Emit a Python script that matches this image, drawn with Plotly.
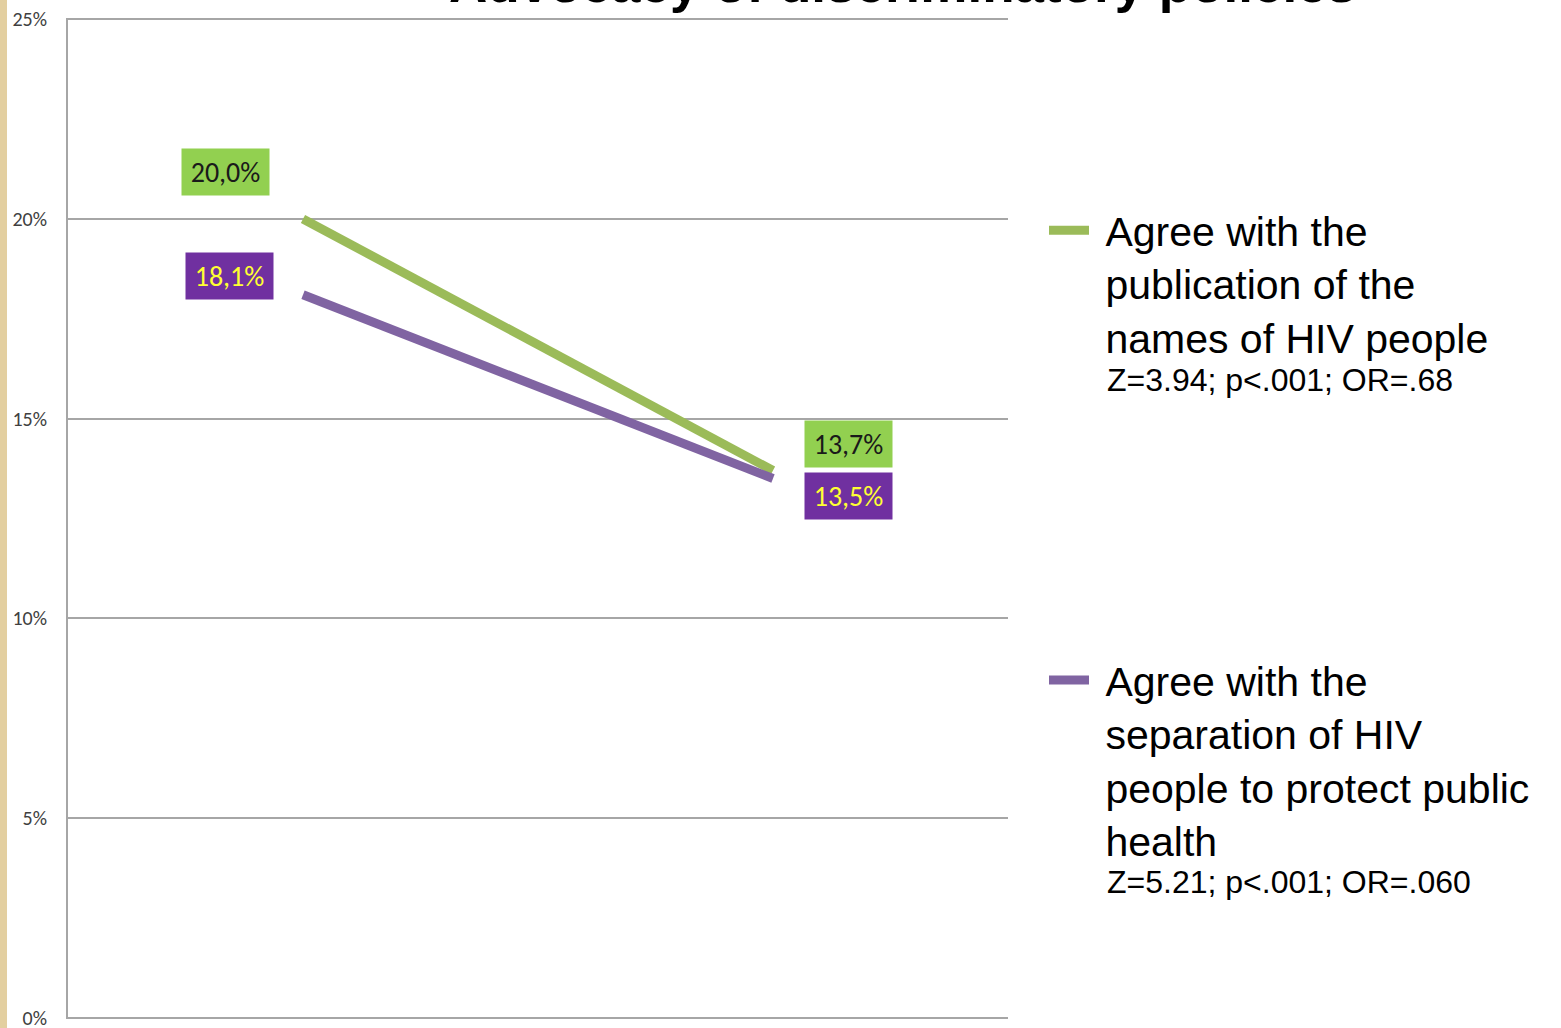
import plotly.graph_objects as go

# ---- data ----
categories = ["Wave 1", "Wave 2"]
publication_names = [20.0, 13.7]
separation_health = [18.1, 13.5]
series_names = [
    "Agree with the<br>publication of the<br>names of HIV people",
    "Agree with the<br>separation of HIV<br>people to protect public<br>health",
]
series_stats = ["Z=3.94; p&lt;.001; OR=.68", "Z=5.21; p&lt;.001; OR=.060"]
y_ticks = [0, 5, 10, 15, 20, 25]
y_tick_labels = ["0%", "5%", "10%", "15%", "20%", "25%"]
title_text = "Advocacy of discriminatory policies"

GREEN = "#9BBB59"
PURPLE = "#8064A2"
LBL_FONT = "Carlito, 'Liberation Sans Narrow', 'DejaVu Sans Condensed', 'Open Sans', sans-serif"
ARIAL = "'Liberation Sans', Arial, sans-serif"

# plot area geometry (pixels)
L, T, B = 68, 18, 9
W_PLOT = 940
H_PLOT = 1028 - T - B

def nb(text):
    # leading non-breaking space on every legend line (text indent)
    return "&nbsp;" + text.replace("<br>", "<br>&nbsp;")

fig = go.Figure()
fig.add_trace(go.Scatter(x=categories, y=publication_names, mode="lines",
                         line=dict(color=GREEN, width=9), name=nb(series_names[0]),
                         legendgroup="g1"))
fig.add_trace(go.Scatter(x=categories, y=separation_health, mode="lines",
                         line=dict(color=PURPLE, width=9), name=nb(series_names[1]),
                         legendgroup="g2"))

def fmt(v):
    return f"{v:.1f}".replace(".", ",") + "%"

annotations = []
# data labels (offsets in pixels relative to the points)
label_specs = [
    (categories[0], publication_names[0], -78, 47, "#92D050", "#1a1a1a"),
    (categories[1], publication_names[1], 75, 27, "#92D050", "#1a1a1a"),
    (categories[0], separation_health[0], -74, 19, "#7030A0", "#FFFF33"),
    (categories[1], separation_health[1], 75, -17, "#7030A0", "#FFFF33"),
]
for x, y, dx, dy, bg, fc in label_specs:
    annotations.append(dict(
        x=x, y=y, xref="x", yref="y", text=fmt(y), showarrow=False,
        xshift=dx, yshift=dy, bgcolor=bg, width=83, height=42, borderpad=2,
        font=dict(family=LBL_FONT, size=28, color=fc),
        xanchor="center", yanchor="middle"))

# statistics lines under each legend entry
for stat, ypx in zip(series_stats, [380, 882]):
    annotations.append(dict(
        x=(1105 - L) / W_PLOT, y=(1028 - B - ypx) / H_PLOT, xref="paper", yref="paper",
        text=stat, showarrow=False, xanchor="left", yanchor="middle",
        font=dict(family=ARIAL, size=32, color="#000000")))

annotations.append(dict(
    x=(902 - L) / W_PLOT, y=1, xref="paper", yref="paper", text=f"<b>{title_text}</b>",
    showarrow=False, xanchor="center", yanchor="middle", yshift=35,
    font=dict(family=ARIAL, size=53, color="#000000")))

fig.update_layout(
    width=1561, height=1028,
    margin=dict(l=L, r=1561 - L - W_PLOT, t=T, b=B, autoexpand=False),
    paper_bgcolor="#FFFFFF", plot_bgcolor="#FFFFFF",
    showlegend=True,
    legend=dict(
        x=(1044 - L) / W_PLOT, xanchor="left", xref="paper",
        y=(1028 - B - 197) / H_PLOT, yanchor="top",
        font=dict(family=ARIAL, size=41, color="#000000"),
        valign="top", tracegroupgap=287, traceorder="grouped", itemwidth=40,
        bgcolor="rgba(0,0,0,0)",
    ),
    xaxis=dict(type="category", range=[-0.5, 1.5], showticklabels=False,
               showgrid=False, zeroline=False, showline=False, ticks="",
               automargin=False),
    yaxis=dict(range=[-0.03, 25.03], tickvals=y_ticks, ticktext=y_tick_labels,
               showgrid=True, gridcolor="#A6A6A6", gridwidth=2,
               showline=True, linecolor="#A6A6A6", linewidth=2,
               zeroline=False, ticks="", ticklabelstandoff=15,
               ticklabeloverflow="allow", automargin=False,
               tickfont=dict(family=LBL_FONT, size=20, color="#404040")),
    annotations=annotations,
    shapes=[dict(type="rect", xref="paper", yref="paper",
                 x0=-L / W_PLOT, x1=(7 - L) / W_PLOT, y0=-B / H_PLOT, y1=1 + T / H_PLOT,
                 fillcolor="#E3CFA0", line=dict(width=0), layer="below")],
)

fig.write_html("out.html")
